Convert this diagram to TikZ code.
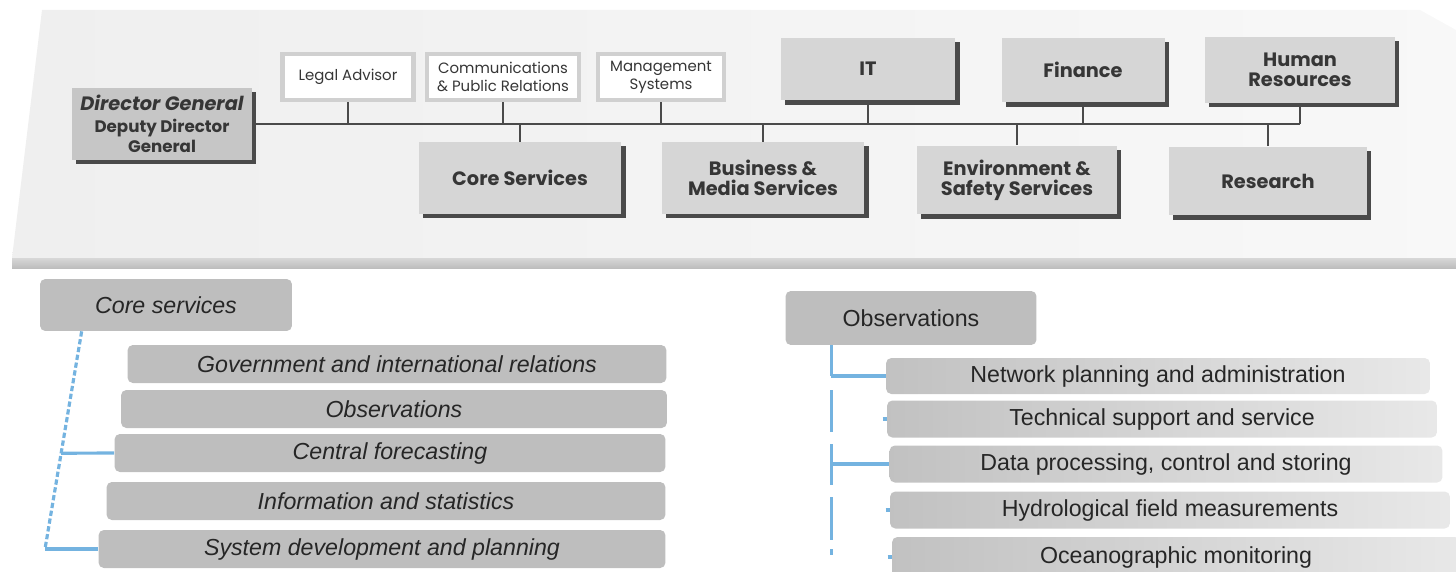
\documentclass[tikz,border=0pt]{standalone}
\usepackage{fontspec}
\setmainfont{Liberation Sans}
\newfontfamily\orgfont{Poppins}
\usetikzlibrary{shadows,positioning}
\definecolor{panelgray}{HTML}{EFEFEF}
\definecolor{bargray}{HTML}{BDBDBD}
\definecolor{topgray}{HTML}{D6D6D6}
\definecolor{dggray}{HTML}{C6C6C6}
\definecolor{edgegray}{HTML}{4A4A4A}
\definecolor{framegray}{HTML}{D0D0D0}
\definecolor{lowgray}{HTML}{BEBEBE}
\definecolor{linkblue}{HTML}{74B3E0}
\definecolor{inkgray}{HTML}{363636}
\tikzset
{
    unitbox/.style   = {fill=topgray, align=center, text=inkgray, font=\orgfont\bfseries\fontsize{11}{11.5}\selectfont,
                        drop shadow={shadow xshift=2.5pt, shadow yshift=-2.5pt, fill=edgegray, opacity=1}},
    staffbox/.style  = {draw=framegray, line width=2.6pt, fill=white, align=center, text=inkgray,
                        font=\orgfont\fontsize{8.5}{10.5}\selectfont, minimum height=0.92cm},
    busline/.style   = {draw=edgegray, line width=1.1pt},
    headbox/.style   = {fill=lowgray, rounded corners=3pt, font=\fontsize{13.2}{15}\selectfont, text=black!85},
    corebox/.style   = {fill=lowgray, rounded corners=3pt, minimum height=0.76cm,
                        font=\itshape\fontsize{13.2}{15}\selectfont, text=black!85},
    obsbox/.style    = {left color=lowgray!95!white, right color=lowgray!35!white, rounded corners=3pt,
                        minimum height=0.74cm, font=\fontsize{13.2}{15}\selectfont, text=black!85},
    bluelink/.style  = {draw=linkblue, line width=1.8pt}
}

\begin{document}
\begin{tikzpicture}[x=0.02cm, y=-0.02cm]
\useasboundingbox (0,0) rectangle (1456,571);

% top panel
\shade[left color=panelgray, right color=panelgray!45!white] (42,10) -- (1420,10) -- (1456,30) -- (1456,258) -- (12,258) -- cycle;
\shade[top color=bargray!60, bottom color=bargray] (12,258) rectangle (1456,268);

\node (dg)[unitbox, fill=dggray, minimum width=3.6cm, minimum height=1.44cm] at (162,124)
	{\itshape Director General\\[1pt] \fontsize{9.5}{8.5}\selectfont Deputy Director\\ \fontsize{9.5}{8.5}\selectfont General};
\node (legal)[staffbox, minimum width=2.62cm] 	at (348,77) 	{Legal Advisor};
\node (comms)[staffbox, minimum width=3.04cm] 	at (503,77) 	{Communications\\ \& Public Relations};
\node (mgmt)[staffbox, minimum width=2.52cm] 		at (661,77) 	{Management\\ Systems};
\node (it)[unitbox, minimum width=3.5cm, minimum height=1.26cm] 		at (868,69) 	{IT};
\node (fin)[unitbox, minimum width=3.26cm, minimum height=1.3cm] 		at (1083,70) 	{Finance};
\node (hr)[unitbox, minimum width=3.8cm, minimum height=1.32cm] 		at (1300,70) 	{Human\\ Resources};
\node (core)[unitbox, minimum width=4.06cm, minimum height=1.44cm] 	at (520,178) 	{Core Services};
\node (biz)[unitbox, minimum width=4.06cm, minimum height=1.44cm] 	at (763,178) 	{Business \&\\ Media Services};
\node (env)[unitbox, minimum width=4cm, minimum height=1.38cm] 		at (1017,180) {Environment \&\\ Safety Services};
\node (res)[unitbox, minimum width=3.96cm, minimum height=1.38cm] 	at (1268,181) {Research};

\draw[busline] (dg) 		-- (hr |- dg);
\draw[busline] (legal) 	-- (legal |- dg);
\draw[busline] (comms) 	-- (comms |- dg);
\draw[busline] (mgmt) 	-- (mgmt |- dg);
\draw[busline] (it) 		-- (it |- dg);
\draw[busline] (fin) 		-- (fin |- dg);
\draw[busline] (hr) 		-- (hr |- dg);
\draw[busline] (core) 	-- (core |- dg);
\draw[busline] (biz) 		-- (biz |- dg);
\draw[busline] (env) 		-- (env |- dg);
\draw[busline] (res) 		-- (res |- dg);

% core services
\node (cs)[headbox, font=\itshape\fontsize{13.2}{15}\selectfont, minimum width=5.04cm, minimum height=1.04cm] at (166,305) {Core services};
\node (gov)[corebox, minimum width=10.78cm] 	at (397,364) 	{Government and international relations};
\node (obs)[corebox, minimum width=10.92cm] 	at (394,409) 	{Observations};
\node (cfc)[corebox, minimum width=11.02cm] 	at (390,453) 	{Central forecasting};
\node (inf)[corebox, minimum width=11.18cm] 	at (386,501) 	{Information and statistics};
\node (sys)[corebox, minimum width=11.34cm] 	at (382,549) 	{System development and planning};

\coordinate (csfoot) at ([xshift=0.84cm]cs.south west);
\coordinate (csbend) at (45,549);
\draw[bluelink, dash pattern=on 3pt off 1.5pt] (csfoot) -- coordinate[pos=0.56] (csmid) (csbend);
\draw[bluelink] (csbend) -- (sys.west);
\draw[bluelink] (csmid) 	-- (cfc.west);

% observations
\node (oh)[headbox, minimum width=5.02cm, minimum height=1.08cm] 	at (911,318) 	{Observations};
\node (net)[obsbox, minimum width=10.88cm, minimum height=0.72cm] 	at (1158,376) 	{Network planning and administration};
\node (tech)[obsbox, minimum width=11cm] 		at (1162,419) 	{Technical support and service};
\node (data)[obsbox, minimum width=11.06cm] 	at (1166,464) 	{Data processing, control and storing};
\node (hyd)[obsbox, minimum width=11.2cm] 		at (1170,510) 	{Hydrological field measurements};
\node (ocean)[obsbox, minimum width=11.36cm, minimum height=0.8cm] 	at (1176,557) 	{Oceanographic monitoring};

\coordinate (ohfoot) at ([xshift=0.92cm]oh.south west);
\coordinate (ohend) at (ohfoot |- 0,558);
\draw[bluelink, dash pattern=on 0.62cm off 0.28cm on 0.84cm off 0.24cm on 0.82cm off 0.24cm on 0.86cm off 0.18cm on 0.12cm]
	(ohfoot) -- (ohend);
\draw[bluelink] (ohfoot |- net.west) 	-- (net.west);
\draw[bluelink] (ohfoot |- data.west) 	-- (data.west);
\draw[bluelink] ([xshift=-0.08cm]tech.west) 	-- (tech.west);
\draw[bluelink] ([xshift=-0.08cm]hyd.west) 	-- (hyd.west);
\draw[bluelink] ([xshift=-0.08cm]ocean.west) 	-- (ocean.west);

\end{tikzpicture}
\end{document}
